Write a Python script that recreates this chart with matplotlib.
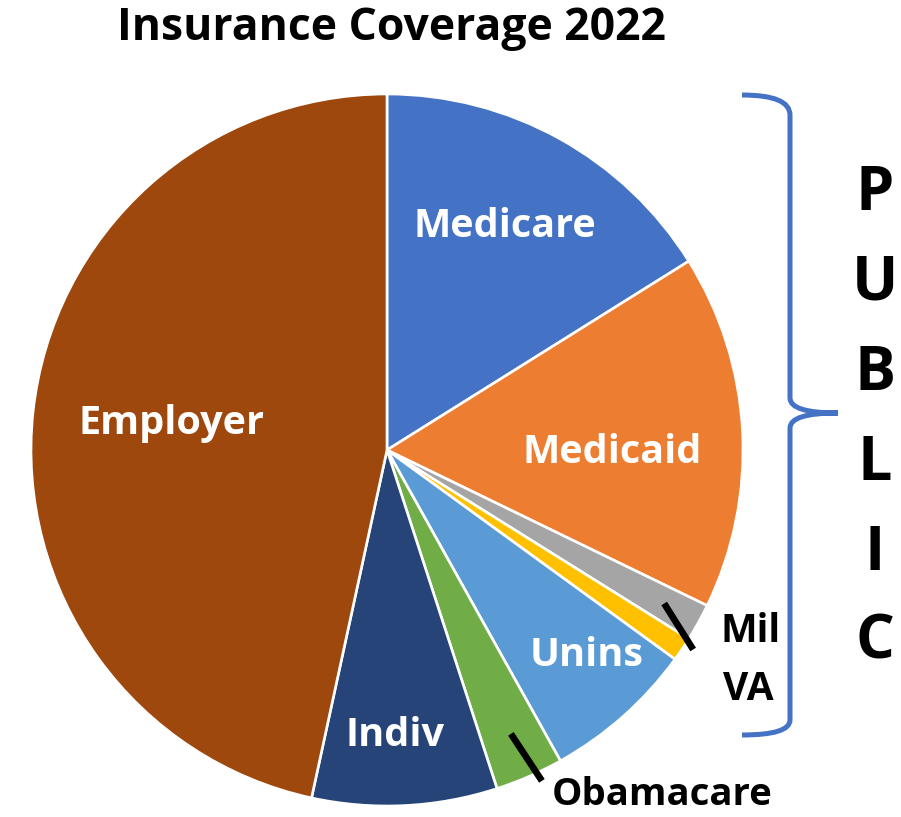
import numpy as np
import matplotlib.pyplot as plt
from matplotlib.path import Path
from matplotlib.patches import PathPatch

W, H = 901, 817

labels = ["Medicare", "Medicaid", "Mil", "VA", "Unins", "Obamacare", "Indiv", "Employer"]
shares = [16.1, 16.1, 1.7, 1.1, 6.9, 3.1, 8.4, 46.6]
colors = ["#4472C4", "#ED7D31", "#A5A5A5", "#FFC000", "#5B9BD5", "#70AD47", "#264478", "#9E480E"]
# white labels sitting inside their wedge (pixel positions, y from top)
inside = {"Medicare": (505, 226), "Medicaid": (612, 452), "Unins": (587, 656),
          "Indiv": (395, 735), "Employer": (172, 423)}
side_letters = list("PUBLIC")

plt.rcParams['font.family'] = ['Open Sans', 'DejaVu Sans']
plt.rcParams['font.weight'] = 'bold'

fig = plt.figure(figsize=(W / 100, H / 100), dpi=100)
ax = fig.add_axes([0, 0, 1, 1])

cx, cy, R = 387, H - 450, 356
wedges, _ = ax.pie(shares, colors=colors, startangle=90, counterclock=False,
                   center=(cx, cy), radius=R,
                   wedgeprops=dict(edgecolor="white", linewidth=1.9))
ax.set_xlim(0, W)
ax.set_ylim(0, H)
ax.set_aspect("equal")
ax.axis("off")

def polar(w, frac):
    t = np.deg2rad((w.theta1 + w.theta2) / 2)
    return cx + frac * R * np.cos(t), cy + frac * R * np.sin(t)

for name, (px, py) in inside.items():
    ax.text(px, H - py, name, color="white", fontsize=28.5, ha="center", va="center")

# leader lines for the thin slices
x0, y0 = polar(wedges[2], 0.89)
ax.plot([x0, x0 + 29], [y0, y0 - 46], color="black", lw=4.8, solid_capstyle="butt")
x0, y0 = polar(wedges[5], 0.87)
ax.plot([x0, x0 + 31], [y0, y0 - 47], color="black", lw=4.8, solid_capstyle="butt")

ax.text(751, H - 632, "Mil", fontsize=28, ha="center", va="center")
ax.text(748, H - 690, "VA", fontsize=28, ha="center", va="center")
ax.text(662, H - 805, "Obamacare", fontsize=27.5, ha="center", va="baseline")

ax.text(391, H - 28, "Insurance Coverage 2022", fontsize=32, ha="center", va="center")

# brace around the public programs
def P(x, y):
    return (x, H - y)

verts = [P(742, 95), P(790, 95), P(790, 115),
         P(790, 398), P(790, 413), P(838, 413),
         P(838, 413), P(790, 413), P(790, 428),
         P(790, 720), P(790, 735), P(742, 735)]
codes = [Path.MOVETO, Path.CURVE3, Path.CURVE3,
         Path.LINETO, Path.CURVE3, Path.CURVE3,
         Path.MOVETO, Path.CURVE3, Path.CURVE3,
         Path.LINETO, Path.CURVE3, Path.CURVE3]
ax.add_patch(PathPatch(Path(verts, codes), fill=False, edgecolor="#4472C4", lw=3.6))

for letter, py in zip(side_letters, [194, 284, 374, 464, 554, 643]):
    ax.text(875, H - py, letter, fontsize=44, ha="center", va="center")

fig.savefig("out.png", dpi=100)
